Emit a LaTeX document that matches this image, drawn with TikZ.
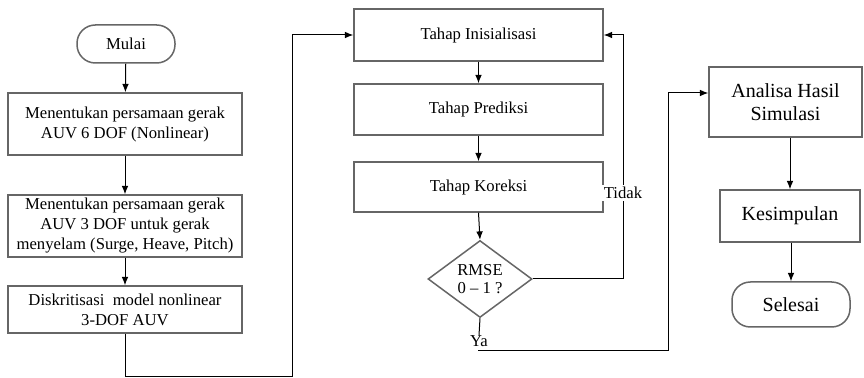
\documentclass[tikz,border=0pt]{standalone}
\usepackage{fontspec}
\setmainfont{Liberation Serif}
\usetikzlibrary{arrows.meta, positioning, shapes.geometric}

\begin{document}
\begin{tikzpicture}[x=0.6pt, y=-0.6pt,
  box/.style={draw=black!60, line width=0.9pt, rectangle, align=center,
    inner sep=1pt, font=\fontsize{10}{12}\selectfont},
  term/.style={box, rounded corners=11pt},
  decide/.style={draw=black!60, line width=0.9pt, diamond, align=center,
    inner sep=0pt, minimum width=62.4pt, minimum height=46.2pt,
    font=\fontsize{10}{11}\selectfont},
  flow/.style={line width=0.6pt, -{Latex[length=5pt, width=4pt]}},
  lbl/.style={fill=white, inner sep=1pt, font=\fontsize{10}{12}\selectfont}]

\useasboundingbox (0,0) rectangle (864,378);

% kolom kiri
\node[term, minimum width=58.8pt, minimum height=22.8pt] (mulai) at (126,44) {Mulai};
\node[box, minimum width=140.4pt, minimum height=37.2pt] (gerak6) at (125,124)
  {Menentukan persamaan gerak\\AUV 6 DOF (Nonlinear)};
\node[box, minimum width=140.4pt, minimum height=37.2pt] (gerak3) at (125,226)
  {Menentukan persamaan gerak\\AUV 3 DOF untuk gerak\\menyelam (Surge, Heave, Pitch)};
\node[box, minimum width=140.4pt, minimum height=28.2pt] (diskrit) at (125,309.5)
  {Diskritisasi\ \ model nonlinear\\3-DOF AUV};

% kolom tengah
\node[box, minimum width=149.4pt, minimum height=31.2pt] (inisial) at (478.5,35) {Tahap Inisialisasi};
\node[box, minimum width=149.4pt, minimum height=30.6pt] (prediksi) at (478.5,109.5) {Tahap Prediksi};
\node[box, minimum width=149.4pt, minimum height=30pt] (koreksi) at (478.5,187) {Tahap Koreksi};
\node[decide] (rmse) at (480,279) {RMSE\\0 -- 1 ?};
\node[lbl, inner sep=0pt, anchor=south] (ya) at (479,347) {Ya};

% kolom kanan
\node[box, minimum width=91.8pt, minimum height=42pt, font=\fontsize{12}{14}\selectfont]
  (analisa) at (785.5,102) {Analisa Hasil\\Simulasi};
\node[box, minimum width=84pt, minimum height=31.2pt, font=\fontsize{12}{14}\selectfont]
  (simpul) at (790,216) {Kesimpulan};
\node[term, minimum width=70.8pt, minimum height=27pt, font=\fontsize{12}{14}\selectfont]
  (selesai) at (791,304.5) {Selesai};

\coordinate (bawah) at (292,377);
\coordinate (balik) at (623,279);
\coordinate (awal) at (478,351);
\coordinate (lanjut) at (668,351);
\coordinate (masuk) at (668,93);

\draw[flow] (mulai) -- (gerak6);
\draw[flow] (gerak6) -- (gerak3);
\draw[flow] (gerak3) -- (diskrit);
\draw[flow] (diskrit.south) |- (bawah) |- (inisial.west);

\draw[flow] (inisial) -- (prediksi);
\draw[flow] (prediksi) -- (koreksi);
\draw[flow] (koreksi.south) -- (rmse.north);
\draw[flow] (rmse.east) -- (balik) |- (inisial.east);
\node[lbl] (tidak) at (623,193) {Tidak};
\draw[line width=0.6pt] (rmse.south) -- (ya.north);
\draw[flow] (awal) -- (lanjut) -- (masuk) -- (analisa.west |- masuk);

\draw[flow] (simpul.north |- analisa.south) -- (simpul.north);
\draw[flow] (simpul.south -| selesai.north) -- (selesai.north);
\end{tikzpicture}
\end{document}
